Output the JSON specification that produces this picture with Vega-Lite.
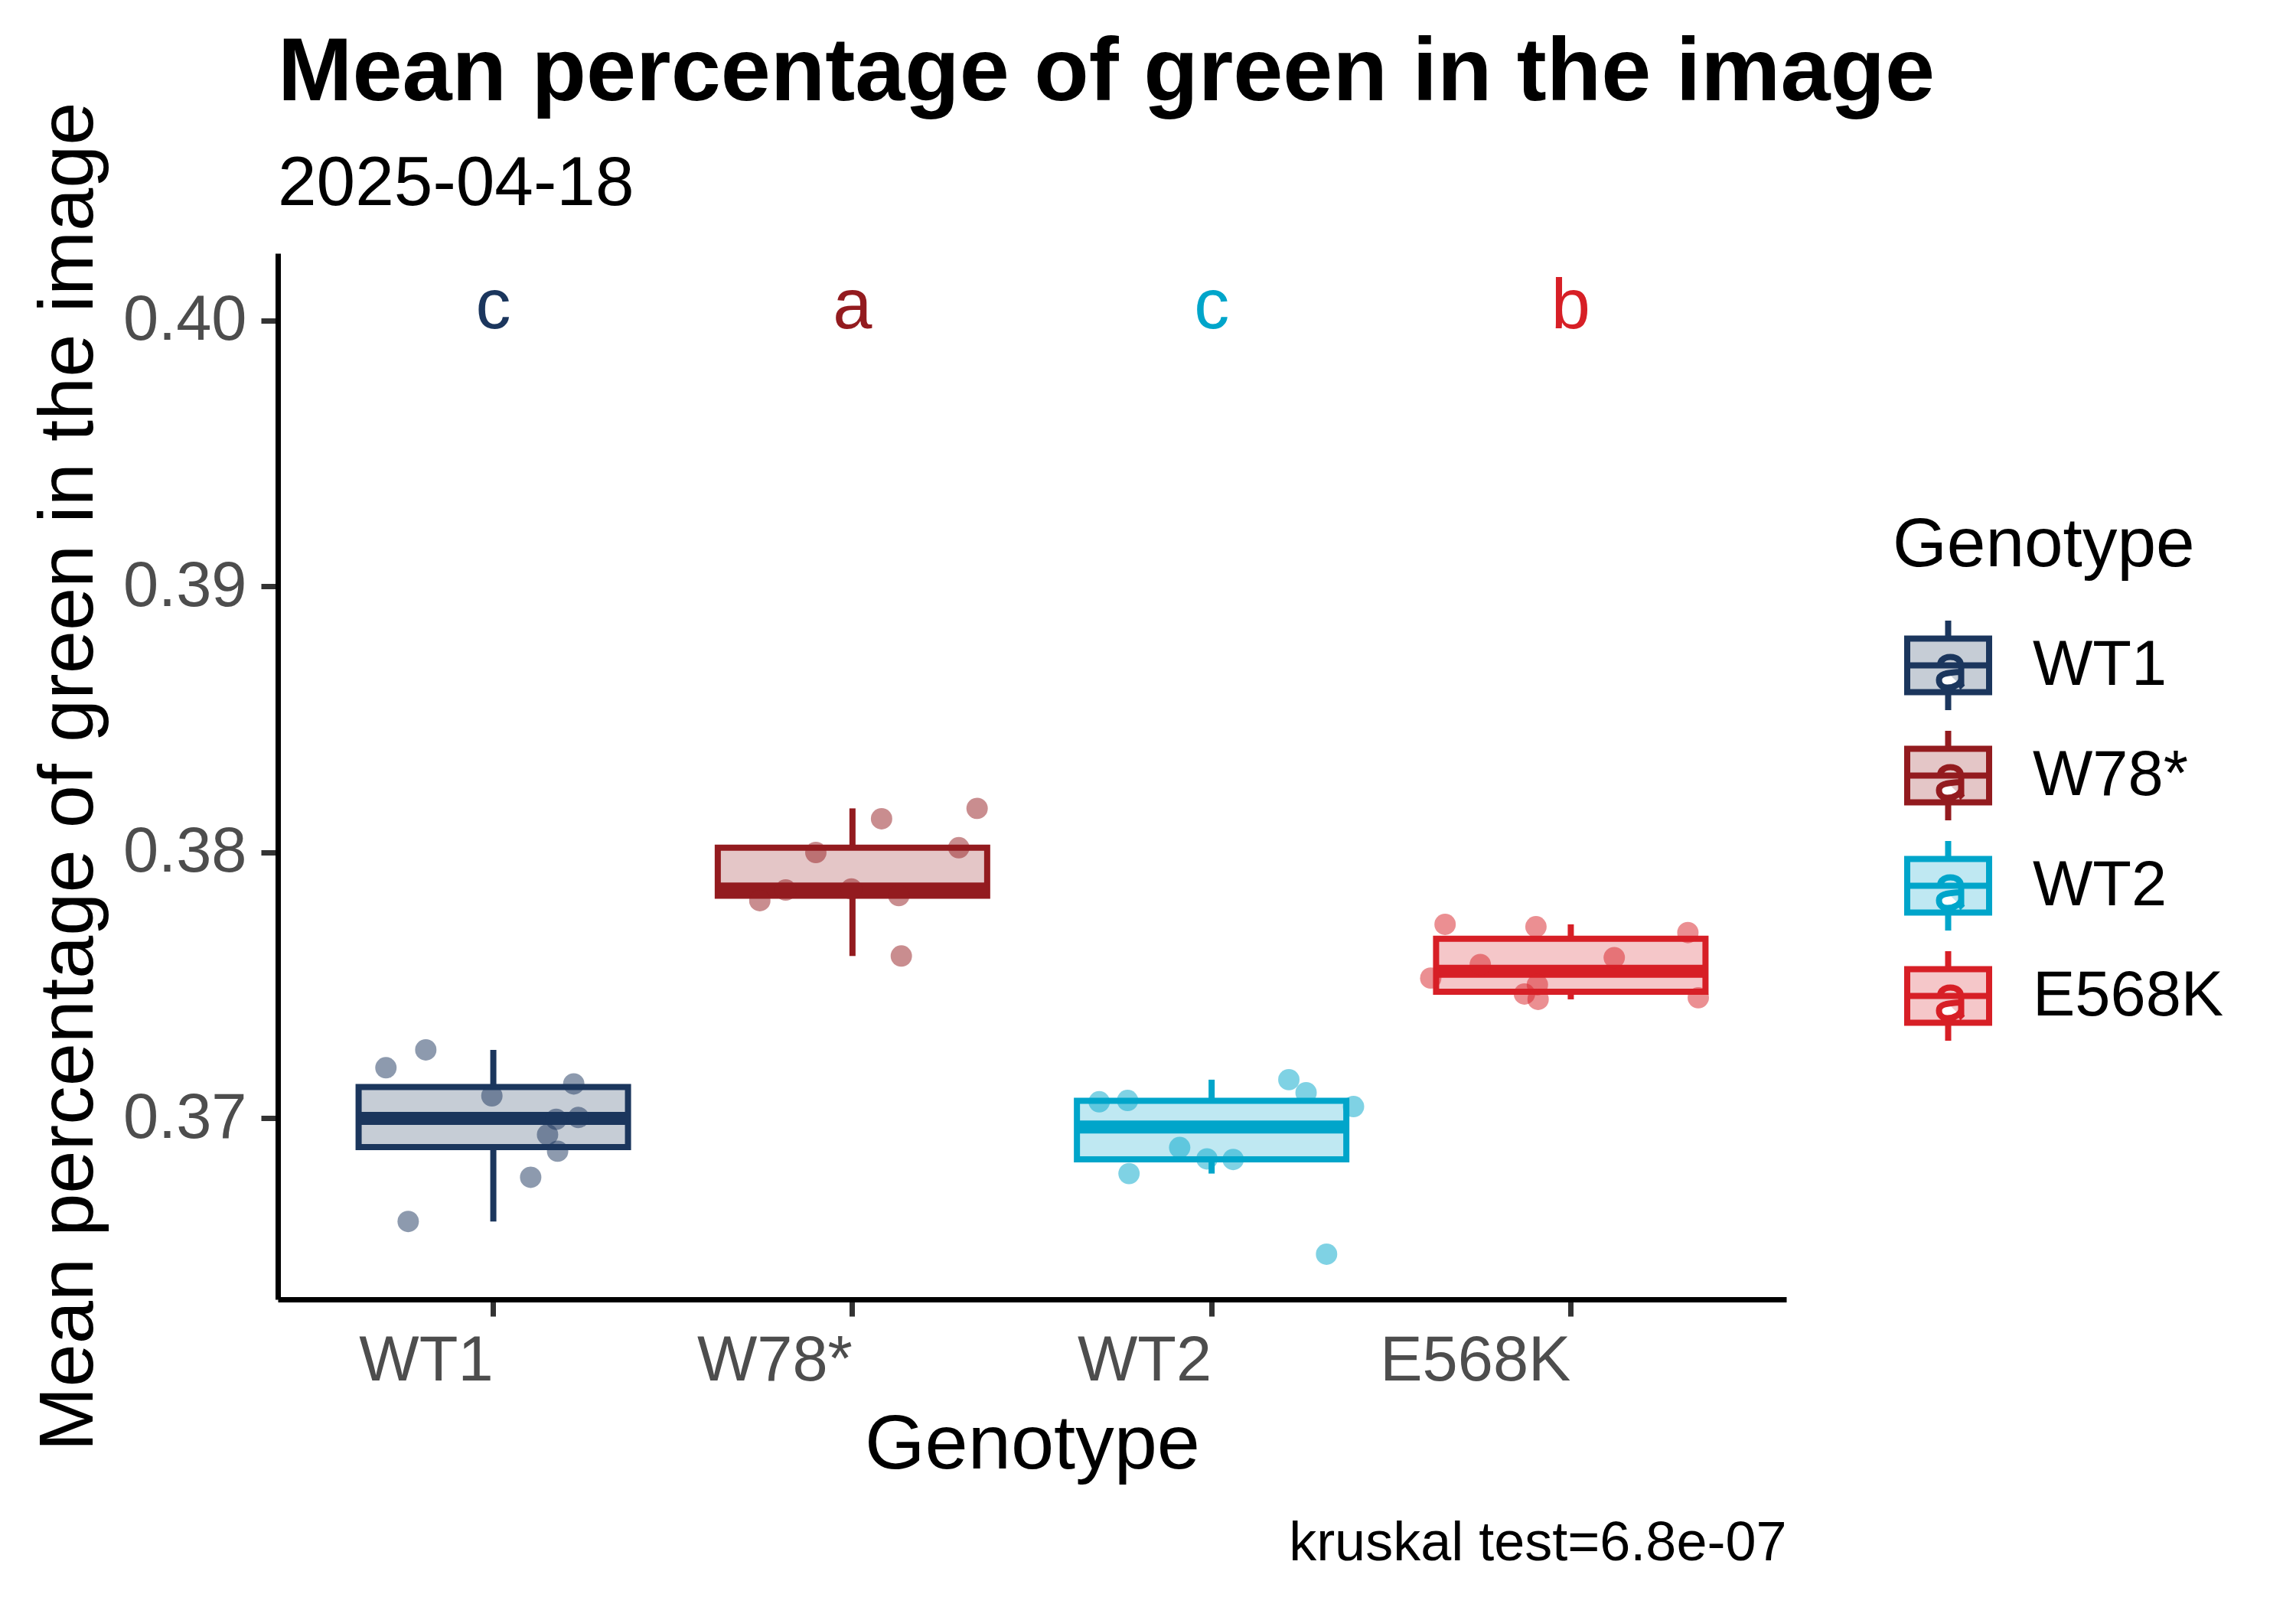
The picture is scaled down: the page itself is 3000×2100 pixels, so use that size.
{
  "$schema": "https://vega.github.io/schema/vega-lite/v6.json",
  "width": 1971,
  "height": 1367,
  "autosize": {"type": "none"},
  "padding": {"left": 363, "top": 331, "right": 666, "bottom": 402},
  "background": "white",
  "config": {
    "font": "Liberation Sans",
    "view": {"stroke": null},
    "axis": {
      "grid": false,
      "domainColor": "black",
      "domainWidth": 7,
      "tickColor": "#333333",
      "tickWidth": 7,
      "tickSize": 22,
      "labelColor": "#4D4D4D",
      "labelFontSize": 83,
      "labelLimit": 1000,
      "titleFontSize": 101,
      "titleColor": "black",
      "titleFontWeight": "normal",
      "titleLimit": 3000
    }
  },
  "title": {
    "text": "Mean percentage of green in the image",
    "subtitle": "2025-04-18",
    "anchor": "start",
    "frame": "group",
    "fontSize": 117,
    "fontWeight": "bold",
    "color": "black",
    "subtitleFontSize": 91,
    "subtitleColor": "black",
    "subtitlePadding": 40,
    "offset": -155,
    "limit": 3000
  },
  "data": {
    "values": [
      {"Genotype": "WT1", "value": 0.37190, "jit": -0.299},
      {"Genotype": "WT1", "value": 0.37257, "jit": -0.188},
      {"Genotype": "WT1", "value": 0.37084, "jit": -0.004},
      {"Genotype": "WT1", "value": 0.37129, "jit": 0.224},
      {"Genotype": "WT1", "value": 0.36996, "jit": 0.175},
      {"Genotype": "WT1", "value": 0.37003, "jit": 0.237},
      {"Genotype": "WT1", "value": 0.36938, "jit": 0.151},
      {"Genotype": "WT1", "value": 0.36876, "jit": 0.179},
      {"Genotype": "WT1", "value": 0.36778, "jit": 0.104},
      {"Genotype": "WT1", "value": 0.36612, "jit": -0.237},
      {"Genotype": "W78*", "value": 0.38165, "jit": 0.347},
      {"Genotype": "W78*", "value": 0.38126, "jit": 0.081},
      {"Genotype": "W78*", "value": 0.38017, "jit": 0.296},
      {"Genotype": "W78*", "value": 0.37999, "jit": -0.102},
      {"Genotype": "W78*", "value": 0.37858, "jit": -0.186},
      {"Genotype": "W78*", "value": 0.37862, "jit": -0.003},
      {"Genotype": "W78*", "value": 0.37818, "jit": -0.258},
      {"Genotype": "W78*", "value": 0.37837, "jit": 0.129},
      {"Genotype": "W78*", "value": 0.37610, "jit": 0.136},
      {"Genotype": "WT2", "value": 0.37062, "jit": -0.313},
      {"Genotype": "WT2", "value": 0.37067, "jit": -0.234},
      {"Genotype": "WT2", "value": 0.37145, "jit": 0.215},
      {"Genotype": "WT2", "value": 0.37096, "jit": 0.263},
      {"Genotype": "WT2", "value": 0.37044, "jit": 0.395},
      {"Genotype": "WT2", "value": 0.36890, "jit": -0.089},
      {"Genotype": "WT2", "value": 0.36847, "jit": -0.013},
      {"Genotype": "WT2", "value": 0.36845, "jit": 0.060},
      {"Genotype": "WT2", "value": 0.36792, "jit": -0.230},
      {"Genotype": "WT2", "value": 0.36489, "jit": 0.320},
      {"Genotype": "E568K", "value": 0.37729, "jit": -0.350},
      {"Genotype": "E568K", "value": 0.37720, "jit": -0.097},
      {"Genotype": "E568K", "value": 0.37698, "jit": 0.326},
      {"Genotype": "E568K", "value": 0.37604, "jit": 0.121},
      {"Genotype": "E568K", "value": 0.37578, "jit": -0.252},
      {"Genotype": "E568K", "value": 0.37527, "jit": -0.390},
      {"Genotype": "E568K", "value": 0.37502, "jit": -0.093},
      {"Genotype": "E568K", "value": 0.37467, "jit": -0.129},
      {"Genotype": "E568K", "value": 0.37447, "jit": -0.091},
      {"Genotype": "E568K", "value": 0.37453, "jit": 0.355}
    ]
  },
  "layer": [
    {
      "encoding": {
        "x": {
          "field": "Genotype",
          "type": "nominal",
          "scale": {"domain": ["WT1", "W78*", "WT2", "E568K"], "paddingInner": 0, "paddingOuter": 0.1},
          "axis": {
            "title": "Genotype",
            "labelAngle": 0,
            "labelAlign": "right",
            "labelBaseline": "top",
            "labelPadding": 17,
            "titleY": 220,
            "titleBaseline": "alphabetic"
          }
        },
        "color": {
          "field": "Genotype",
          "type": "nominal",
          "scale": {"domain": ["WT1", "W78*", "WT2", "E568K"], "range": ["#1B365D", "#931B1F", "#00A5CA", "#D71F26"]},
          "legend": {
            "orient": "none",
            "legendX": 2110,
            "legendY": 337,
            "title": "Genotype",
            "titleFontSize": 91,
            "titleColor": "black",
            "titleFontWeight": "normal",
            "titlePadding": 53,
            "titleLimit": 1000,
            "labelFontSize": 83,
            "labelColor": "black",
            "labelOffset": 53,
            "labelLimit": 1000,
            "symbolType": "M-1,-0.654H1V0.654H-1Z M-1,0H1 M0,-0.654V-1.093 M0,0.654V1.093 M-0.206,-0.019C-0.168,-0.168,-0.056,-0.206,0.056,-0.206C0.224,-0.206,0.318,-0.112,0.318,0.037L0.318,0.449C0.318,0.486,0.336,0.523,0.355,0.542M0.318,0.150C0.150,0.187,-0.224,0.150,-0.224,0.355C-0.224,0.486,-0.131,0.542,-0.019,0.542C0.150,0.542,0.318,0.449,0.318,0.318",
            "symbolSize": 11449,
            "symbolStrokeWidth": 8,
            "symbolOffset": 15,
            "symbolOpacity": 1,
            "rowPadding": -5,
            "encode": {
              "symbols": {
                "update": {
                  "fill": {"scale": "color", "field": "value"},
                  "fillOpacity": {"value": 0.25},
                  "stroke": {"scale": "color", "field": "value"},
                  "strokeWidth": {"value": 8},
                  "opacity": {"value": 1}
                }
              }
            }
          }
        }
      },
      "layer": [
        {
          "transform": [
            {"joinaggregate": [{"op": "q1", "field": "value", "as": "lq"}, {"op": "q3", "field": "value", "as": "uq"}], "groupby": ["Genotype"]},
            {"filter": "datum.value >= datum.lq - 1.5 * (datum.uq - datum.lq) && datum.value <= datum.uq + 1.5 * (datum.uq - datum.lq)"},
            {"aggregate": [
              {"op": "min", "field": "value", "as": "lo"},
              {"op": "max", "field": "value", "as": "hi"},
              {"op": "min", "field": "lq", "as": "q1"},
              {"op": "min", "field": "uq", "as": "q3"}
            ], "groupby": ["Genotype"]}
          ],
          "layer": [
            {
              "mark": {"type": "rule", "strokeWidth": 8},
              "encoding": {
                "y": {"field": "q3", "type": "quantitative", "scale": {"domain": [0.36319, 0.40252], "nice": false, "zero": false}, "title": "Mean percentage of green in the image"},
                "y2": {"field": "hi"}
              }
            },
            {
              "mark": {"type": "rule", "strokeWidth": 8},
              "encoding": {
                "y": {"field": "lo", "type": "quantitative", "title": "Mean percentage of green in the image"},
                "y2": {"field": "q1"}
              }
            }
          ]
        },
        {
          "transform": [
            {"aggregate": [
              {"op": "q1", "field": "value", "as": "q1"},
              {"op": "q3", "field": "value", "as": "q3"},
              {"op": "median", "field": "value", "as": "med"}
            ], "groupby": ["Genotype"]}
          ],
          "layer": [
            {
              "mark": {"type": "bar", "width": 352, "fillOpacity": 0.25, "strokeWidth": 8},
              "encoding": {
                "y": {"field": "q1", "type": "quantitative", "title": "Mean percentage of green in the image"},
                "y2": {"field": "q3"},
                "stroke": {
                  "field": "Genotype",
                  "type": "nominal",
                  "scale": {"domain": ["WT1", "W78*", "WT2", "E568K"], "range": ["#1B365D", "#931B1F", "#00A5CA", "#D71F26"]},
                  "legend": null
                }
              }
            },
            {
              "mark": {"type": "tick", "size": 352, "thickness": 17, "opacity": 1},
              "encoding": {
                "y": {"field": "med", "type": "quantitative", "title": "Mean percentage of green in the image"}
              }
            }
          ]
        },
        {
          "mark": {"type": "circle", "size": 780, "opacity": 0.5},
          "encoding": {
            "y": {
              "field": "value",
              "type": "quantitative",
              "title": "Mean percentage of green in the image",
              "axis": {
                "values": [0.37, 0.38, 0.39, 0.40],
                "format": ".2f",
                "labelPadding": 19,
                "titleX": -243,
                "titleBaseline": "alphabetic"
              }
            },
            "xOffset": {"field": "jit", "type": "quantitative", "scale": {"domain": [-0.5, 0.5], "nice": false}}
          }
        },
        {
          "data": {
            "values": [
              {"Genotype": "WT1", "letter": "c", "ypos": 0.4},
              {"Genotype": "W78*", "letter": "a", "ypos": 0.4},
              {"Genotype": "WT2", "letter": "c", "ypos": 0.4},
              {"Genotype": "E568K", "letter": "b", "ypos": 0.4}
            ]
          },
          "mark": {"type": "text", "fontSize": 92, "baseline": "alphabetic", "align": "center", "dy": 10},
          "encoding": {
            "y": {"field": "ypos", "type": "quantitative", "title": "Mean percentage of green in the image"},
            "text": {"field": "letter"}
          }
        }
      ]
    },
    {
      "data": {"values": [{"Genotype": "WT1"}]},
      "mark": {"type": "point", "opacity": 0},
      "encoding": {
        "x": {
          "field": "Genotype",
          "type": "nominal",
          "axis": {
            "orient": "bottom",
            "title": "kruskal test=6.8e-07",
            "labels": false,
            "ticks": false,
            "domain": false,
            "titleAnchor": "end",
            "titleAlign": "right",
            "titleBaseline": "alphabetic",
            "titleY": 340,
            "titleFontSize": 72,
            "titleColor": "black"
          }
        }
      }
    }
  ],
  "resolve": {"scale": {"x": "independent"}}
}
